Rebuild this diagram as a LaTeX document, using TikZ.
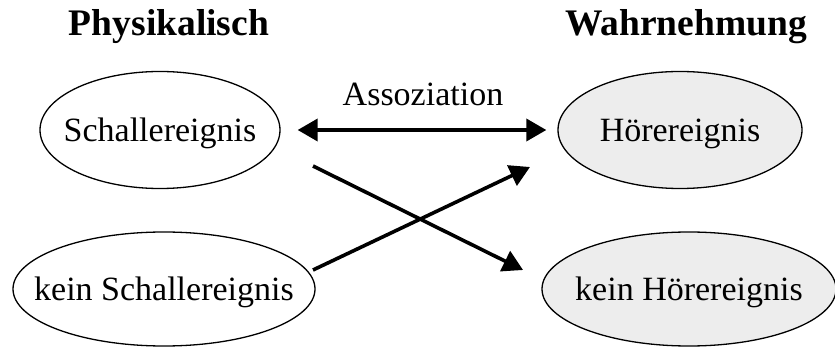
\documentclass[tikz,border=0pt]{standalone}
\usepackage{fontspec}
\setmainfont{Liberation Serif}
\usetikzlibrary{shapes.geometric,arrows.meta,calc}
\newcommand{\zb}[1]{\makebox[0pt]{#1}}
\begin{document}
\begin{tikzpicture}[x=1pt,y=-1pt,
  ev/.style={ellipse, draw=black, line width=1.3pt, inner sep=0pt,
    font=\fontsize{34}{40}\selectfont, text depth=0.05em},
  phys/.style={ev, fill=white},
  perc/.style={ev, fill=black!7},
  head/.style={font=\fontsize{37.5}{44}\selectfont\bfseries, anchor=base},
  conn/.style={line width=3.6pt, -{Triangle[length=20pt,width=22pt]}},
]
\useasboundingbox (0,0) rectangle (835,347);
\node[head] (hp) at (169,36) {Physikalisch};
\node[head] (hw) at (686,36) {Wahrnehmung};

\node[phys, minimum width=240, minimum height=117] (s1) at (160,130) {\zb{Schallereignis}};
\node[phys, minimum width=302, minimum height=114] (s2) at (164,289) {\zb{kein Schallereignis}};
\node[perc, minimum width=244, minimum height=117] (h1) at (680,130) {\zb{Hörereignis}};
\node[perc, minimum width=294, minimum height=114] (h2) at (689,289) {\zb{kein Hörereignis}};

\node[font=\fontsize{34}{40}\selectfont, anchor=base] (as) at (423,106) {Assoziation};

\draw[conn, {Triangle[length=20pt,width=22pt]}-{Triangle[length=20pt,width=22pt]}]
  ([xshift=17]s1.east) -- ([xshift=-11]h1.west);
\coordinate (a1) at ($(s1.center)+(153,36)$);
\coordinate (b1) at ($(h2.center)+(-166,-19)$);
\coordinate (a2) at ($(s2.center)+(149,-19)$);
\coordinate (b2) at ($(h1.center)+(-150,37)$);
\draw[conn] (a1) -- (b1);
\draw[conn] (a2) -- (b2);
\end{tikzpicture}
\end{document}
